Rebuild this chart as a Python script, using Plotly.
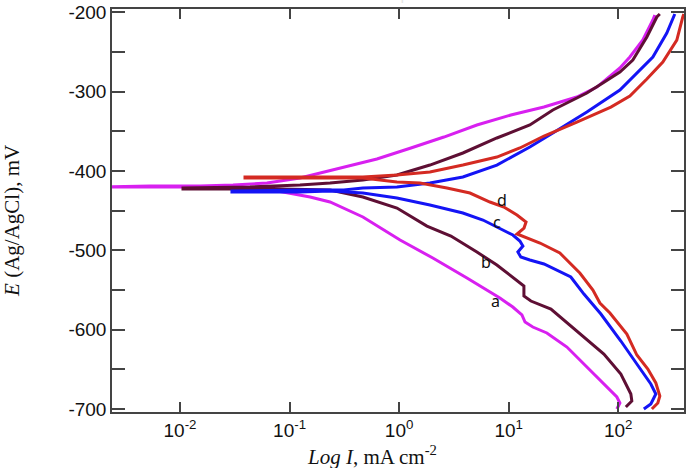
import math
import plotly.graph_objects as go

# ---- data (current density in mA cm^-2, potential in mV vs Ag/AgCl) ----
a_I = [97.1, 103.5, 97.1, 72.3, 51.7, 34.0, 22.3, 16.6, 14.1, 13.2, 10.9, 8.31, 4.16, 2.03, 1.02,
       0.467, 0.234, 0.154, 0.0871, 0.0537, 0.0152, 0.00532, 0.00186,
       0.00532, 0.0152, 0.0305, 0.0622, 0.1245, 0.189, 0.307, 0.627, 1.281, 2.563, 5.125, 10.47,
       20.96, 41.88, 63.8, 103.5, 127.6, 167.6, 206.9, 215.7]
a_E = [-700.0, -692.4, -684.9, -667.2, -647.1, -621.9, -604.2, -596.7, -590.4, -581.5, -571.5, -560.1,
       -534.9, -509.7, -487.0, -458.0, -439.1, -432.8, -426.5, -421.5, -420.2, -420.2, -420.2,
       -418.9, -418.9, -417.7, -415.2, -408.9, -402.6, -395.0, -384.9, -371.0, -357.2, -342.0, -329.4,
       -319.4, -306.8, -294.2, -270.2, -256.3, -234.9, -209.7, -203.4]

b_I = [117.3, 133.0, 130.3, 105.6, 73.9, 41.9, 24.3, 15.95, 13.77, 13.77, 7.80, 5.125, 2.97, 1.794,
       0.955, 0.467, 0.234, 0.0817, 0.01065,
       0.01065, 0.0435, 0.1245, 0.234, 0.467, 0.955, 1.91, 3.82, 7.80, 15.6, 25.3, 51.7, 72.3,
       103.5, 135.8, 182.4, 224.9, 239.6]
b_E = [-697.5, -689.9, -681.1, -655.9, -630.7, -601.7, -574.0, -563.9, -557.6, -545.0, -518.5, -502.1,
       -482.0, -469.4, -446.7, -432.8, -424.0, -422.7, -422.7,
       -421.5, -420.2, -417.7, -415.2, -411.4, -405.1, -392.5, -377.3, -358.4, -342.0, -323.1, -301.7,
       -289.1, -275.2, -260.1, -231.1, -205.9, -202.1]

c_I = [171.2, 198.3, 220.3, 198.3, 147.8, 105.6, 69.4, 48.6, 36.9, 21.0, 15.6, 12.9, 12.13, 13.48,
       12.65, 10.92, 7.80, 5.82, 3.82, 1.91, 0.955, 0.467, 0.234, 0.1245, 0.0298,
       0.0298, 0.1245, 0.313, 0.467, 0.955, 1.91, 3.82, 7.80, 15.6, 25.3, 51.7, 103.5, 147.8,
       206.9, 277.3, 328.2]
c_E = [-700.0, -693.7, -681.1, -668.5, -643.3, -614.3, -580.3, -555.1, -533.6, -517.2, -512.2, -508.4,
       -502.1, -494.6, -488.3, -480.7, -470.6, -461.8, -453.0, -442.9, -434.1, -427.8, -425.3, -426.5,
       -426.5,
       -425.3, -424.0, -424.0, -421.5, -420.2, -415.2, -407.6, -392.5, -369.8, -352.1, -325.7, -297.9,
       -276.5, -256.3, -226.1, -202.1]

d_I = [202.6, 229.7, 239.6, 220.3, 186.2, 147.8, 119.8, 83.9, 68.0, 58.7, 44.6, 29.3, 19.3, 14.7,
       11.9, 13.8, 14.4, 11.9, 9.04, 6.74, 4.43, 2.73, 1.55, 0.955, 0.467, 0.234, 0.0392,
       0.0392, 0.234, 0.467, 0.955, 1.91, 3.82, 7.80, 12.65, 21.0, 41.9, 85.6, 127.6, 182.4, 255.1,
       301.7, 342.2, 388.0, 396.3]
d_E = [-700.0, -692.4, -683.6, -667.2, -649.6, -632.0, -605.5, -579.0, -566.4, -550.0, -528.6, -503.4,
       -490.8, -484.5, -479.4, -471.9, -464.3, -455.5, -445.4, -439.1, -427.8, -421.5, -415.2, -413.9,
       -408.9, -408.9, -408.9,
       -407.6, -407.6, -407.6, -405.1, -401.3, -392.5, -382.4, -371.0, -355.9, -338.3, -319.4, -305.5,
       -284.1, -262.6, -247.5, -234.9, -205.9, -202.1]

curve_names = ["a", "b", "c", "d"]
curve_I = [a_I, b_I, c_I, d_I]
curve_E = [a_E, b_E, c_E, d_E]
curve_colors = ["#D820F0", "#5E0F34", "#1414F5", "#D42A22"]

label_text = ["a", "b", "c", "d"]
label_I = [7.64, 6.19, 7.8, 8.67]
label_E = [-563.9, -514.7, -464.3, -436.6]

x_tickvals = [0.01, 0.1, 1, 10, 100]
x_ticktext = ["10<sup>-2</sup>", "10<sup>-1</sup>", "10<sup>0</sup>", "10<sup>1</sup>", "10<sup>2</sup>"]
y_tickvals = [-700, -600, -500, -400, -300, -200]
y_ticktext = ["-700", "-600", "-500", "-400", "-300", "-200"]

fig = go.Figure()
for name, xs, ys, col in zip(curve_names, curve_I, curve_E, curve_colors):
    fig.add_trace(go.Scatter(x=xs, y=ys, mode="lines", name=name,
                             line=dict(color=col, width=3), showlegend=False))

# annotations on a log axis take log10 positions
for t, xi, yi in zip(label_text, label_I, label_E):
    fig.add_annotation(x=math.log10(xi), y=yi, xref="x", yref="y", text=t, showarrow=False,
                       font=dict(family="Noto Sans", size=16, color="#111"))

axis_col = "#444"
fig.update_xaxes(type="log", range=[-2.6206, 2.60], tickvals=x_tickvals, ticktext=x_ticktext,
                 ticks="inside", ticklen=10, tickwidth=1.5, tickcolor=axis_col,
                 showline=True, linecolor=axis_col, linewidth=1.5, mirror="ticks",
                 showgrid=False, zeroline=False, automargin=False, ticklabeloverflow="allow",
                 tickfont=dict(family="Liberation Sans", size=19, color="#111"))
fig.update_yaxes(range=[-703.8, -195.8], tickvals=y_tickvals, ticktext=y_ticktext,
                 ticks="inside", ticklen=13, tickwidth=1.5, tickcolor=axis_col,
                 minor=dict(dtick=50, tick0=-700, ticks="inside", ticklen=13, tickwidth=1.5,
                            tickcolor=axis_col),
                 showline=True, linecolor=axis_col, linewidth=1.5, mirror="ticks",
                 showgrid=False, zeroline=False, automargin=False, ticklabeloverflow="allow",
                 tickfont=dict(family="Liberation Sans", size=19, color="#111"))

fig.add_annotation(x=-0.175, y=0.474, xref="paper", yref="paper", textangle=-90,
                   text="<i>E</i> (Ag/AgCl), mV", showarrow=False,
                   xanchor="center", yanchor="middle",
                   font=dict(family="Liberation Serif", size=21, color="#111"))
fig.add_annotation(x=0.4545, y=-0.1067, xref="paper", yref="paper",
                   text="<i>Log I</i>, mA cm<sup>-2</sup>", showarrow=False,
                   xanchor="center", yanchor="middle",
                   font=dict(family="Liberation Serif", size=21, color="#111"))
fig.add_annotation(x=0.4685, y=1, xref="paper", yref="paper", yanchor="bottom", yshift=4,
                   text="Data Graph", showarrow=False,
                   font=dict(family="Liberation Sans", size=14, color="#e4e4e4"))

fig.update_layout(width=688, height=468, margin=dict(l=112, r=4, t=9, b=56),
                  plot_bgcolor="white", paper_bgcolor="white", showlegend=False)

# remove the default 8px page margin so the figure fills the window exactly
fig.write_html("out.html", config={"displayModeBar": False},
               post_script="document.body.style.margin='0';")
